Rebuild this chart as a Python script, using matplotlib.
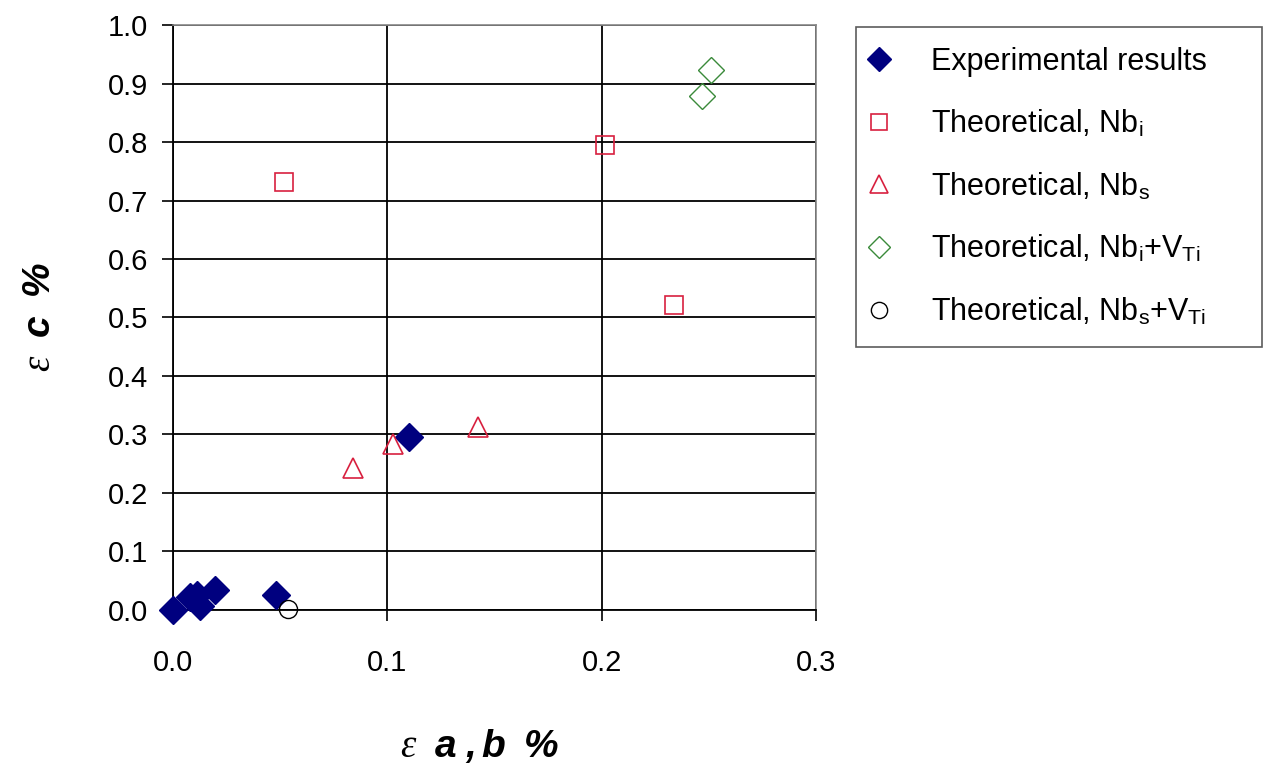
import matplotlib
matplotlib.use('Agg')
import matplotlib.pyplot as plt

# === DADOS ===
exp_x = [0.0, 0.0078, 0.011, 0.0127, 0.0195, 0.048, 0.110]
exp_y = [0.0, 0.023, 0.026, 0.006, 0.035, 0.026, 0.295]

nbi_x = [0.0518, 0.2014, 0.2336]
nbi_y = [0.731, 0.795, 0.522]

nbs_x = [0.084, 0.1028, 0.1425]
nbs_y = [0.243, 0.284, 0.313]

nbi_v_x = [0.247, 0.251]
nbi_v_y = [0.878, 0.923]

nbs_v_x = [0.0535]
nbs_v_y = [0.001]

labels = ['Experimental results',
          r'Theoretical, Nb$_{\mathregular{i}}$',
          r'Theoretical, Nb$_{\mathregular{s}}$',
          r'Theoretical, Nb$_{\mathregular{i}}$+V$_{\mathregular{Ti}}$',
          r'Theoretical, Nb$_{\mathregular{s}}$+V$_{\mathregular{Ti}}$']

xticks = [0.0, 0.1, 0.2, 0.3]
yticks = [i / 10 for i in range(11)]

# === ESTILO ===
plt.rcParams['font.family'] = ['Liberation Sans', 'DejaVu Sans']
plt.rcParams['mathtext.fontset'] = 'custom'
plt.rcParams['mathtext.rm'] = 'Liberation Sans'
plt.rcParams['mathtext.it'] = 'Liberation Serif:italic'
plt.rcParams['mathtext.bf'] = 'Liberation Sans:bold:italic'

red = '#d8203f'
green = '#3a8a3a'
navy = '#00007f'

fig = plt.figure(figsize=(12.65, 7.67), dpi=100)
ax = fig.add_axes([0.1368, 0.2047, 0.5083, 0.7627])

ax.plot(exp_x, exp_y, 'D', ms=14, color=navy, mec=navy, ls='none', label=labels[0], zorder=3, clip_on=False)
ax.plot(nbi_x, nbi_y, 's', ms=13, mfc='none', mec=red, mew=1.2, ls='none', label=labels[1], zorder=3, clip_on=False)
ax.plot(nbs_x, nbs_y, '^', ms=15, mfc='none', mec=red, mew=1.2, ls='none', label=labels[2], zorder=3, clip_on=False)
ax.plot(nbi_v_x, nbi_v_y, 'D', ms=13, mfc='none', mec=green, mew=1.0, ls='none', label=labels[3], zorder=3, clip_on=False)
ax.plot(nbs_v_x, nbs_v_y, 'o', ms=13, mfc='none', mec='black', mew=1.0, ls='none', label=labels[4], zorder=3, clip_on=False)

ax.set_xlim(0, 0.3)
ax.set_ylim(0, 1.0)
ax.set_xticks(xticks)
ax.set_yticks(yticks)
ax.set_xticklabels([f'{v:.1f}' for v in xticks])
ax.set_yticklabels([f'{v:.1f}' for v in yticks])
ax.tick_params(axis='both', labelsize=21, direction='out', length=8, width=1.2, colors='black')
ax.tick_params(axis='x', pad=20)
ax.tick_params(axis='y', pad=10)

ax.grid(True, color='black', lw=1.3)
ax.set_axisbelow(True)
ax.spines['left'].set_color('black')
ax.spines['bottom'].set_color('black')
ax.spines['left'].set_linewidth(1.3)
ax.spines['bottom'].set_linewidth(1.3)
for s in ['top', 'right']:
    ax.spines[s].set_color('#888888')
    ax.spines[s].set_linewidth(1.2)

# rótulos dos eixos
fig.text(0.379, 0.028, r'$\varepsilon\ \ \mathbf{a\ ,b\ \ \%}$', fontsize=28, ha='center', va='center')
fig.text(0.032, 0.586, r'$\varepsilon\ \ \mathbf{c\ \ \%}$', fontsize=28, ha='center', va='center', rotation=90)

leg = fig.legend(loc='upper left', bbox_to_anchor=(0.6767, 0.5528, 0.321, 0.412),
                 mode='expand', borderaxespad=0, fontsize=22, markerscale=0.9,
                 handlelength=0.2, handletextpad=1.6, labelspacing=1.02,
                 fancybox=False, frameon=True, borderpad=0.65)
leg.get_frame().set_edgecolor('#333333')
leg.get_frame().set_linewidth(1.2)

plt.savefig('out.png', dpi=100)
